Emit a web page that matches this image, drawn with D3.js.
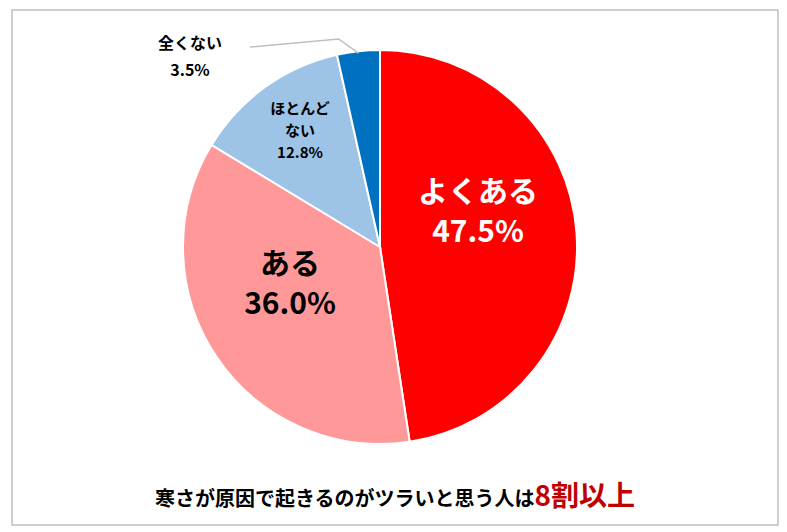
<!DOCTYPE html>
<html><head><meta charset="utf-8">
<script src="https://cdn.jsdelivr.net/npm/d3@7"></script>
<style>body{margin:0;background:#fff}</style>
</head><body>
<svg id="c" width="787" height="532"></svg>
<script>
var labels = ["よくある", "ある", "ほとんど\nない", "全くない"];
var values = [47.5, 36.0, 12.8, 3.5];
var colors = ["#FF0000", "#FF9999", "#9DC3E6", "#0070C0"];

var svg = d3.select("#c");
var font = "'Noto Sans CJK JP', sans-serif";
svg.append("rect").attr("x", 12).attr("y", 10).attr("width", 766).attr("height", 515)
  .attr("fill", "#fff").attr("stroke", "#BFBFBF").attr("stroke-width", 1.5);

var cx = 380, cy = 247, r = 197;
var g = svg.append("g").attr("transform", "translate(" + cx + "," + cy + ")");
var pie = d3.pie().sort(null)(values);
var arc = d3.arc().innerRadius(0).outerRadius(r);
g.selectAll("path").data(pie).enter().append("path")
  .attr("d", arc).attr("fill", function(d, i) { return colors[i]; })
  .attr("stroke", "#fff").attr("stroke-width", 2);

// label placements (offset from center)
var pos = [
  {x: 98, y: -45, size: 30, fill: "#fff", lh: 40},
  {x: -90, y: 27, size: 30, fill: "#000", lh: 40},
  {x: -80, y: -133, size: 15, fill: "#000", lh: 22},
  {x: -190, y: -198, size: 16, fill: "#000", lh: 27}
];
pie.forEach(function(d, i) {
  var p = pos[i];
  var lines = labels[i].split("\n").concat([values[i].toFixed(1) + "%"]);
  var t = g.append("text").attr("text-anchor", "middle").attr("font-family", font)
    .attr("font-weight", "bold").attr("font-size", p.size).attr("fill", p.fill);
  lines.forEach(function(l, j) {
    t.append("tspan").attr("x", p.x).attr("y", p.y + j * p.lh).text(l);
  });
});
// leader line for 全くない
var a = pie[3], mid = (a.startAngle + a.endAngle) / 2;
var ex = Math.sin(mid) * (r - 2), ey = -Math.cos(mid) * (r - 2);
g.append("polyline").attr("fill", "none").attr("stroke", "#BFBFBF").attr("stroke-width", 1.5)
  .attr("points", [[-130, -200], [ex - 20, -208], [ex, ey]].map(function(p) { return p.join(","); }).join(" "));

var title = svg.append("text").attr("x", 395).attr("y", 506).attr("text-anchor", "middle")
  .attr("font-family", font).attr("font-weight", "bold");
title.append("tspan").attr("font-size", 20).attr("fill", "#000").text("寒さが原因で起きるのがツラいと思う人は");
title.append("tspan").attr("font-size", 28).attr("fill", "#C00000").text("8割以上");
</script>
</body></html>
